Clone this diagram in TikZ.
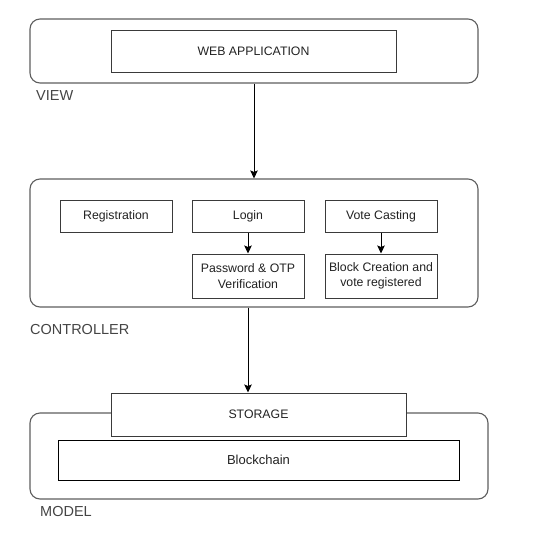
\documentclass[tikz,border=0pt]{standalone}
\usepackage{fontspec}
\setmainfont{Liberation Sans}
\usepackage{xcolor}
\usepackage{tikz}
\usetikzlibrary{arrows.meta,positioning}
\definecolor{framegray}{HTML}{5E5E5E}
\definecolor{boxgray}{HTML}{3A3A3A}
\definecolor{txtgray}{HTML}{222222}
\definecolor{taggray}{HTML}{444444}
\tikzset{
  >={Stealth[length=8pt,width=7.5pt,inset=1.5pt]},
  layer/.style={draw=framegray, line width=1.1pt, rounded corners=10pt, rectangle, inner sep=0pt},
  block/.style={draw=boxgray, line width=1pt, fill=white, rectangle, inner sep=0pt, align=center,
    text=txtgray, font=\fontsize{12.3}{15.5}\selectfont},
  chain/.style={block, draw=black, line width=0.8pt, font=\fontsize{13}{15}\selectfont},
  tag/.style={anchor=west, inner sep=0pt, text=taggray, font=\fontsize{14.5}{17}\selectfont},
  conn/.style={->, line width=1pt, black},
}

\begin{document}
\begin{tikzpicture}[x=1pt, y=-1pt]
  \useasboundingbox (0,0) rectangle (547,539);

  % view layer
  \node[layer, minimum width=448pt, minimum height=64pt] (view) at (254,51) {};
  \node[block, minimum width=285pt, minimum height=42pt] (webapp) at (253.5,51) {WEB APPLICATION};
  \node[tag] (viewtag) at (36,96) {VIEW};

  % controller layer
  \node[layer, minimum width=448pt, minimum height=128pt] (ctrl) at (254,243) {};
  \node[block, minimum width=112pt, minimum height=32pt] (reg) at (116,216) {Registration};
  \node[block, minimum width=112pt, minimum height=32pt] (login) at (248,216) {Login};
  \node[block, minimum width=112pt, minimum height=32pt] (vote) at (381,216) {Vote Casting};
  \node[block, minimum width=112pt, minimum height=44pt, below=21pt of login] (pwd) {Password \& OTP\\Verification};
  \node[block, minimum width=112pt, minimum height=44pt, below=21pt of vote] (blockc) {Block Creation and\\vote registered};
  \node[tag] (ctrltag) at (30,330) {CONTROLLER};

  % model layer
  \node[layer, minimum width=458pt, minimum height=86pt] (model) at (259,456) {};
  \node[block, minimum width=295pt, minimum height=43pt] (storage) at (258.5,414.5) {STORAGE};
  \node[chain, minimum width=401pt, minimum height=40pt] (chainbox) at (258.5,460) {Blockchain};
  \node[tag] (modeltag) at (40,512) {MODEL};

  % connectors
  \draw[conn] (view.south) -- (ctrl.north);
  \draw[conn] (login.south) -- (pwd.north);
  \draw[conn] (vote.south) -- (blockc.north);
  \draw[conn] (ctrl.south -| login.south) -- (storage.north -| login.south);
\end{tikzpicture}
\end{document}
